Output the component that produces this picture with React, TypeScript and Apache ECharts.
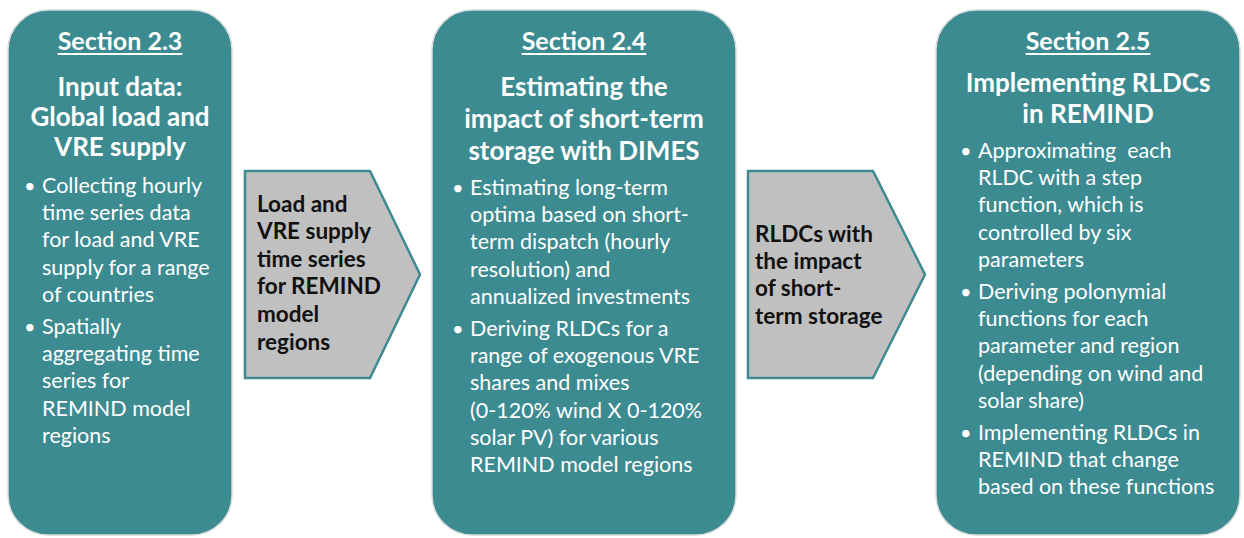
import React, { useEffect, useRef } from "react";
import * as echarts from "echarts";

const sectionLabels = ["Section 2.3", "Section 2.4", "Section 2.5"];
const titleLines = [
  ["Input data:", "Global load and", "VRE supply"],
  ["Estimating the", "impact of short-term", "storage with DIMES"],
  ["Implementing RLDCs", "in REMIND"],
];
const bulletGroups = [
  [
    ["Collecting hourly", "time series data", "for load and VRE", "supply for a range", "of countries"],
    ["Spatially", "aggregating time", "series for", "REMIND model", "regions"],
  ],
  [
    ["Estimating long-term", "optima based on short-", "term dispatch (hourly", "resolution) and", "annualized investments"],
    ["Deriving RLDCs for a", "range of exogenous VRE", "shares and mixes", "(0-120% wind X 0-120%", "solar PV) for various", "REMIND model regions"],
  ],
  [
    ["Approximating  each", "RLDC with a step", "function, which is", "controlled by six", "parameters"],
    ["Deriving polonymial", "functions for each", "parameter and region", "(depending on wind and", "solar share)"],
    ["Implementing RLDCs in", "REMIND that change", "based on these functions"],
  ],
];
const arrowLines = [
  ["Load and", "VRE supply", "time series", "for REMIND", "model", "regions"],
  ["RLDCs with", "the impact", "of short-", "term storage"],
];

const FONT = "Lato, 'Open Sans', sans-serif";
const TEAL = "#3c8b91";

function measure(text: string, font: string) {
  const c = document.createElement("canvas").getContext("2d")!;
  c.font = font;
  return c.measureText(text).width;
}

export default function App() {
  const ref = useRef<HTMLDivElement>(null);
  useEffect(() => {
    document.body.style.margin = "0";
    const chart = echarts.init(ref.current!, null, { renderer: "svg" });
    const boxes = [
      { x: 8, w: 224, cx: 120, bx: 24, tx: 42, titleY: [86, 116, 146], bulletY: 185 },
      { x: 432, w: 304, cx: 584, bx: 452, tx: 470, titleY: [86, 118, 150], bulletY: 187 },
      { x: 936, w: 304, cx: 1088, bx: 960, tx: 978, titleY: [82, 113], bulletY: 150 },
    ];
    const lh = 27.2;
    const g: any[] = [];
    boxes.forEach((b, i) => {
      g.push({
        type: "rect",
        shape: { x: b.x, y: 10, width: b.w, height: 525, r: 40 },
        style: { fill: TEAL, stroke: "#d8dcdc", lineWidth: 1.5 },
      });
      const secFont = `bold 25px ${FONT}`;
      const sw = measure(sectionLabels[i], secFont);
      g.push({
        type: "text",
        x: b.cx,
        y: 40,
        style: { text: sectionLabels[i], font: secFont, fill: "#ffffff", align: "center", verticalAlign: "middle" },
      });
      g.push({
        type: "line",
        shape: { x1: b.cx - sw / 2, y1: 54, x2: b.cx + sw / 2, y2: 54 },
        style: { stroke: "#ffffff", lineWidth: 2 },
      });
      titleLines[i].forEach((t, k) => {
        g.push({
          type: "text",
          x: b.cx,
          y: b.titleY[k],
          style: { text: t, font: `bold 26px ${FONT}`, fill: "#ffffff", align: "center", verticalAlign: "middle" },
        });
      });
      let y = b.bulletY;
      bulletGroups[i].forEach((grp) => {
        g.push({
          type: "text",
          x: b.bx,
          y: y,
          style: { text: "•", font: `20px ${FONT}`, fill: "#ffffff", align: "left", verticalAlign: "middle" },
        });
        grp.forEach((t) => {
          g.push({
            type: "text",
            x: b.tx,
            y: y,
            style: { text: t, font: `21.5px ${FONT}`, fill: "#ffffff", align: "left", verticalAlign: "middle" },
          });
          y += lh;
        });
        y += 5;
      });
    });
    const arrows = [
      { x: 245, mid: 370, tip: 420, tx: 257, y0: 203, step: 27.6 },
      { x: 748, mid: 873, tip: 925, tx: 755, y0: 233, step: 27.4 },
    ];
    arrows.forEach((a, i) => {
      g.push({
        type: "polygon",
        shape: { points: [[a.x, 171], [a.mid, 171], [a.tip, 274.5], [a.mid, 378], [a.x, 378]] },
        style: { fill: "#c0c0c0", stroke: "#3f8a92", lineWidth: 2.5 },
      });
      arrowLines[i].forEach((t, k) => {
        g.push({
          type: "text",
          x: a.tx,
          y: a.y0 + k * a.step,
          style: { text: t, font: `bold 22.5px ${FONT}`, fill: "#111111", align: "left", verticalAlign: "middle" },
        });
      });
    });
    chart.setOption({ animation: false, graphic: { elements: g } });
    return () => chart.dispose();
  }, []);
  return <div ref={ref} style={{ width: 1244, height: 538 }} />;
}
